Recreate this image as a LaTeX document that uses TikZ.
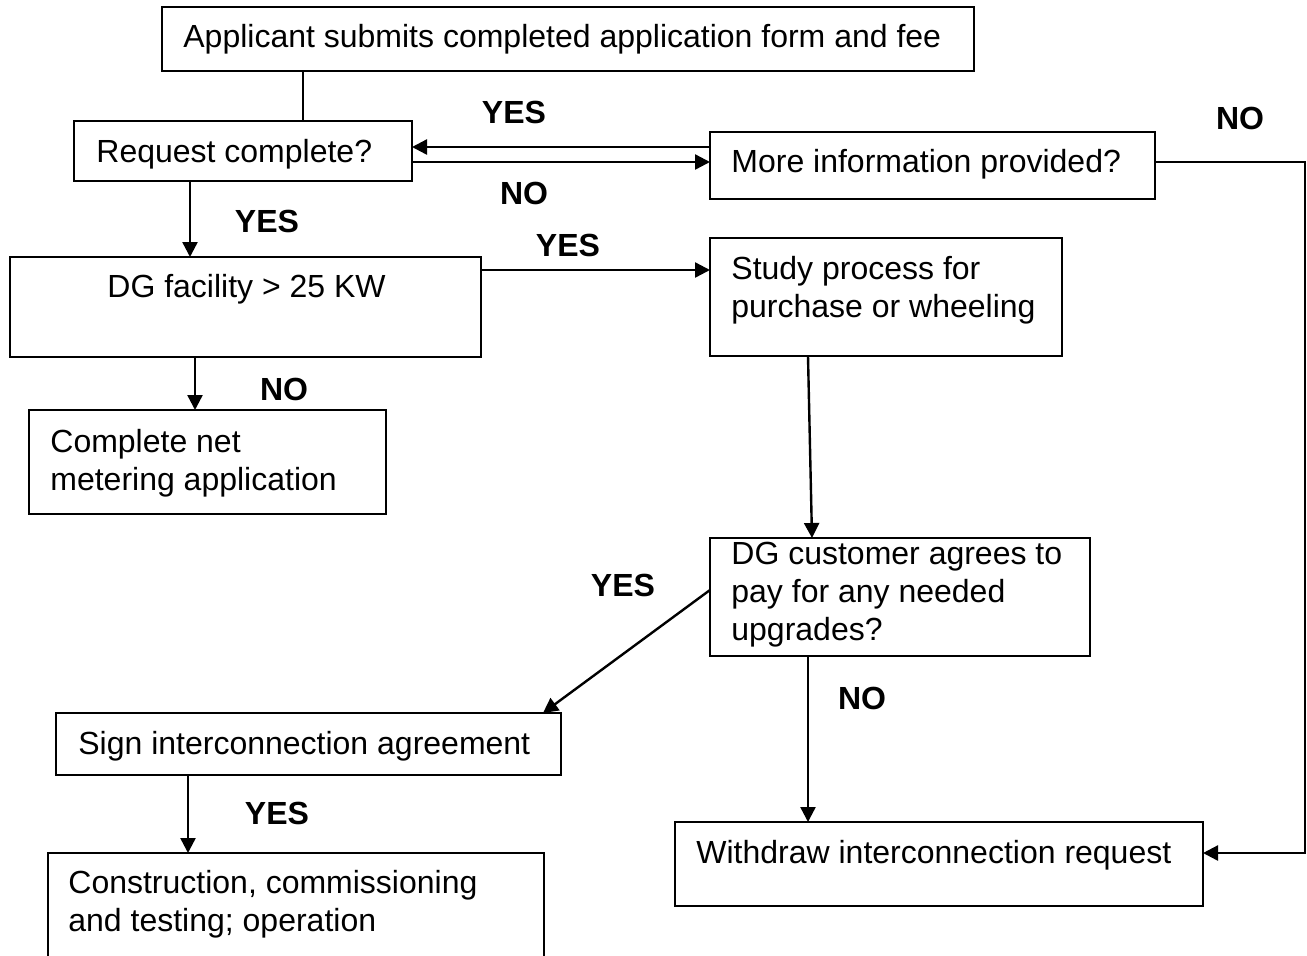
\documentclass[tikz,border=0pt]{standalone}
\usepackage{fontspec}
\setmainfont{Liberation Sans}
\usetikzlibrary{arrows.meta,fit}
\tikzset{
	box/.style={draw, line width=1.2pt, inner sep=0pt, outer sep=0pt},
	txt/.style={anchor=base west, inner sep=0pt, align=left, font=\fontsize{16}{19}\selectfont},
	yn/.style={inner sep=0pt, font=\fontsize{16}{19}\selectfont\bfseries},
	con/.style={line width=1.2pt},
	arr/.style={line width=1.2pt, -{Triangle[length=7.5pt,width=7.5pt]}}
}

\begin{document}
\begin{tikzpicture}[x=0.5pt, y=-0.5pt]
		%%%%% START %%%%%
		\useasboundingbox (0,0) rectangle (1307,955);
		\clip (0,0) rectangle (1307,955);
		
		% boxes
		\node[box, fit={(162,7) (974,71)}] (app) {};
		\node[box, fit={(74,121) (412,181)}] (req) {};
		\node[box, fit={(710,132) (1155,199)}] (info) {};
		\node[box, fit={(10,257) (481,357)}] (dg) {};
		\node[box, fit={(710,238) (1062,356)}] (study) {};
		\node[box, fit={(29,410) (386,514)}] (comp) {};
		\node[box, fit={(710,538) (1090,656)}] (cust) {};
		\node[box, fit={(56,713) (561,775)}] (sign) {};
		\node[box, fit={(48,853) (544,1000)}] (cons) {};
		\node[box, fit={(675,822) (1203,906)}] (wd) {};
		
		% texts (base = last line)
		\node[txt] (appT) at (183,47) {Applicant submits completed application form and fee};
		\node[txt] (reqT) at (96,162) {Request complete?};
		\node[txt] (infoT) at (731,172) {More information provided?};
		\node[txt] (dgT) at (107,297) {DG facility > 25 KW};
		\node[txt] (studyT) at (731,317) {Study process for\\purchase or wheeling};
		\node[txt] (compT) at (50,490) {Complete net\\metering application};
		\node[txt] (custT) at (731,640) {DG customer agrees to\\pay for any needed\\upgrades?};
		\node[txt] (signT) at (78,754) {Sign interconnection agreement};
		\node[txt] (consT) at (68,931) {Construction, commissioning\\and testing; operation};
		\node[txt] (wdT) at (696,863) {Withdraw interconnection request};
		
		% yes / no
		\node[yn] (y1) at (514,112) {YES};
		\node[yn] (n1) at (524,193) {NO};
		\node[yn] (n2) at (1240,118) {NO};
		\node[yn] (y2) at (267,221) {YES};
		\node[yn] (y3) at (568,245) {YES};
		\node[yn] (n3) at (284,389) {NO};
		\node[yn] (y4) at (623,585) {YES};
		\node[yn] (n4) at (862,698) {NO};
		\node[yn] (y5) at (277,813) {YES};
		
		% connectors
		\draw[con] (app.south -| 303,0) -- (req.north -| 303,0);
		\draw[arr] (info.west |- 0,147) -- (req.east |- 0,147);
		\draw[arr] (req.east |- 0,162) -- (info.west |- 0,162);
		\draw[arr] (info.east |- 0,162) -- ++(150,0) |- (wd.east |- 0,853);
		\draw[arr] (req.south -| 190,0) -- (dg.north -| 190,0);
		\draw[arr] (dg.east |- 0,270) -- (study.west |- 0,270);
		\draw[arr] (dg.south -| 195,0) -- (comp.north -| 195,0);
		\draw[arr] (study.south -| 808,0) -- (cust.north -| 812,0);
		\draw[arr] (cust.west |- 0,590) -- (sign.north -| 543,0);
		\draw[arr] (sign.south -| 188,0) -- (cons.north -| 188,0);
		\draw[arr] (cust.south -| 808,0) -- (wd.north -| 808,0);
		
		%%%%% END %%%%%
\end{tikzpicture}
\end{document}
